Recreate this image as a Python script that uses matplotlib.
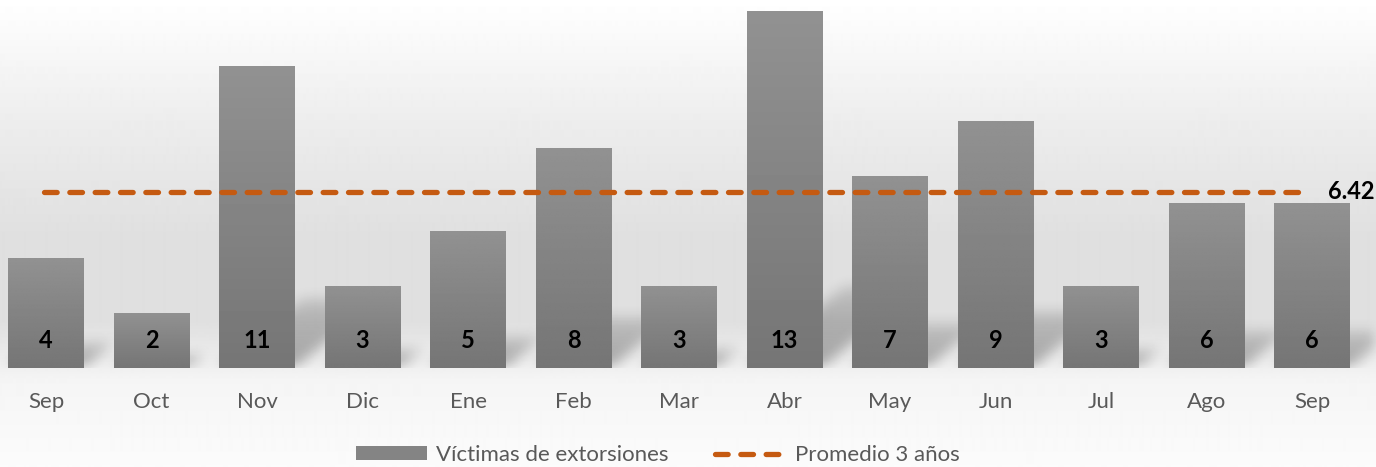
import numpy as np
import matplotlib
matplotlib.use("Agg")
import matplotlib.pyplot as plt
from matplotlib.lines import Line2D
from matplotlib.patches import Patch

months = ["Sep", "Oct", "Nov", "Dic", "Ene", "Feb", "Mar", "Abr", "May", "Jun", "Jul", "Ago", "Sep"]
victimas = [4, 2, 11, 3, 5, 8, 3, 13, 7, 9, 3, 6, 6]
promedio = 6.42

plt.rcParams['font.family'] = ['Lato', 'DejaVu Sans']

W, H = 1376, 467
fig = plt.figure(figsize=(W / 100, H / 100), dpi=100)

# background gradient over the whole figure
bg = fig.add_axes([0, 0, 1, 1], zorder=0)
rows = np.arange(H)
prof = np.interp(rows, [0, 120, 240, 320, 362, 380, 467], [1.0, 0.93, 0.875, 0.875, 0.93, 0.96, 0.985])
bg.imshow(np.repeat(prof[:, None], 2, axis=1), cmap="gray", vmin=0, vmax=1,
          aspect="auto", extent=(0, 1, 0, 1), interpolation="bilinear")
bg.set_axis_off()

base_px = 368
ppu = 27.46  # pixels per unit
ymax = base_px / ppu
ax = fig.add_axes([0, (H - base_px) / H, 1, base_px / H], zorder=1)
ax.patch.set_alpha(0)
x0 = 46 / 105.5
xlim = (-x0, (W - 46) / 105.5)
ax.set_xlim(xlim)
ax.set_ylim(0, ymax)

x = np.arange(len(months))
width = 0.72

# soft cast shadows behind the bars
gx = np.linspace(xlim[0], xlim[1], W)
gy = np.linspace(0, ymax, base_px)
GX, GY = np.meshgrid(gx, gy)
shade = np.zeros_like(GX)
shear = 1.2 * ppu / 105.5
for xi, v in zip(x, victimas):
    hs = 0.23 * v
    inside = (GY < hs) & (GX > xi - width / 2 + shear * GY) & (GX < xi + width / 2 + shear * GY)
    fade = np.clip(1 - GY / hs, 0, 1) ** 0.6
    shade = np.maximum(shade, inside * (0.35 + 0.65 * fade))
k = np.ones(15) / 15
for _ in range(2):
    shade = np.apply_along_axis(lambda r: np.convolve(r, k, mode="same"), 1, shade)
    shade = np.apply_along_axis(lambda c: np.convolve(c, k, mode="same"), 0, shade)
rgba = np.zeros(shade.shape + (4,))
rgba[..., 3] = shade * 0.3
ax.imshow(rgba, extent=(xlim[0], xlim[1], 0, ymax), origin="lower", aspect="auto",
          zorder=1, interpolation="bilinear")

bars = ax.bar(x, victimas, width=width, color="#828282", zorder=2)
grad = np.linspace(0.46, 0.57, 100)[:, None]
for b in bars:
    im = ax.imshow(grad, cmap="gray", vmin=0, vmax=1, origin="lower", aspect="auto",
                   extent=(b.get_x(), b.get_x() + b.get_width(), 0, b.get_height()),
                   zorder=2.5, interpolation="bilinear")
    im.set_clip_path(b)

for xi, v in zip(x, victimas):
    ax.text(xi, 1.0, str(v), ha="center", va="center", fontsize=17, fontweight="bold",
            color="black", zorder=4)

ax.plot([x[0] - 0.02, x[-1] - 0.09], [promedio, promedio], color="#C55A11", lw=3.8,
        dashes=(2.4, 2.4), dash_capstyle="round", zorder=3)
ax.text(x[-1] + 0.15, promedio + 0.02, f"{promedio:.2f}", ha="left", va="center",
        fontsize=17, fontweight="bold", color="black", zorder=4)

ax.set_xticks(x)
ax.set_xticklabels(months, fontsize=16, color="#595959")
ax.tick_params(axis="x", length=0, pad=17)
ax.set_yticks([])
for s in ax.spines.values():
    s.set_visible(False)

handles = [Patch(facecolor="#848484", edgecolor="none"),
           Line2D([0], [0], color="#C55A11", lw=3.8, dashes=(2.4, 2.4), dash_capstyle="round")]
leg = fig.legend(handles, ["Víctimas de extorsiones", "Promedio 3 años"], loc="center",
                 bbox_to_anchor=(0.478, 0.026), ncol=2, frameon=False, fontsize=16,
                 handlelength=3.2, handleheight=0.55, handletextpad=0.4, columnspacing=2.1)
for t in leg.get_texts():
    t.set_color("#595959")

fig.savefig("out.png", dpi=100)
